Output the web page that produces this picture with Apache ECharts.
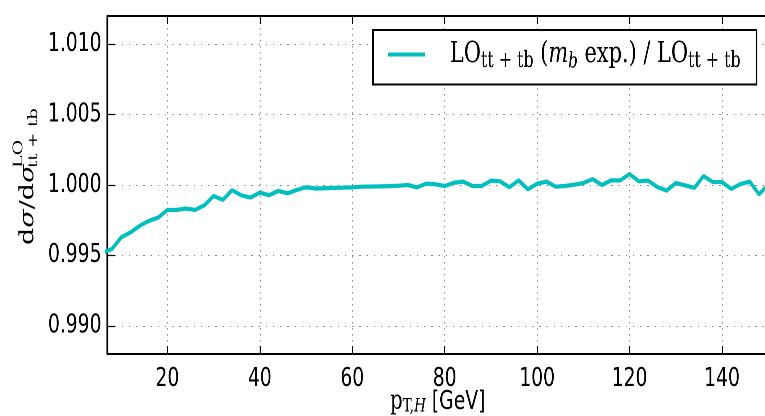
<!DOCTYPE html>
<html><head><meta charset="utf-8">
<script src="https://cdn.jsdelivr.net/npm/echarts@6/dist/echarts.min.js"></script>
<style>
html,body{margin:0;padding:0;overflow:hidden;background:#fff;width:765px;height:416px;}
#main{width:1063px;height:416px;transform:scaleX(0.72);transform-origin:0 0;}
</style></head><body><div id="main"></div>
<script>
// ---- data ----
const ptH = [6,8,10,12,14,16,18,20,22,24,26,28,30,32,34,36,38,40,42,44,46,48,50,52,54,56,58,60,62,64,66,68,70,72,74,76,78,80,82,84,86,88,90,92,94,96,98,100,102,104,106,108,110,112,114,116,118,120,122,124,126,128,130,132,134,136,138,140,142,144,146,148,150];
const ratio = [0.99520,0.99545,0.99628,0.99663,0.99710,0.99745,0.99769,0.99823,0.99823,0.99833,0.99823,0.99856,0.99922,0.99894,0.99963,0.99927,0.99911,0.99946,0.99927,0.99958,0.99941,0.99965,0.99984,0.99975,0.99977,0.99979,0.99981,0.99983,0.99988,0.99989,0.99990,0.99992,0.99995,1.00000,0.99983,1.00010,1.00005,0.99993,1.00016,1.00024,0.99993,0.99993,1.00031,1.00026,0.99984,1.00033,0.99969,1.00009,1.00024,0.99988,0.99993,1.00002,1.00014,1.00042,1.00000,1.00033,1.00033,1.00078,1.00026,1.00031,0.99986,0.99960,1.00014,0.99998,0.99979,1.00064,1.00021,1.00021,0.99972,1.00007,1.00024,0.99934,1.00000];
const xRange = [7, 150];
const yRange = [0.988, 1.012];
const seriesName = 'ratio';

const chart = echarts.init(document.getElementById('main'), null, {renderer:'canvas', devicePixelRatio:2});
const serif = 'DejaVu Serif';
const sans = 'DejaVu Sans';
const subLH = 14, mainLH = 36;
const richCommon = {
  gap:{width:30},
  n:{fontFamily:serif,fontSize:29,lineHeight:mainLH,color:'#000'},
  i:{fontFamily:serif,fontSize:29,fontStyle:'italic',lineHeight:mainLH,color:'#000'},
  s:{fontFamily:serif,fontSize:22,lineHeight:subLH,verticalAlign:'bottom',color:'#000'},
  si:{fontFamily:serif,fontSize:21,fontStyle:'italic',lineHeight:subLH,verticalAlign:'bottom',color:'#000'},
  xn:{fontFamily:serif,fontSize:27,lineHeight:28,color:'#000'},
  xs:{fontFamily:serif,fontSize:19,lineHeight:12,verticalAlign:'bottom',color:'#000'},
  xsi:{fontFamily:serif,fontSize:19,fontStyle:'italic',lineHeight:12,verticalAlign:'bottom',color:'#000'},
  g:{fontFamily:sans,fontSize:26,lineHeight:28,color:'#000'}
};
const pairs = ptH.map((x,k)=>[x, ratio[k]]);

chart.setOption({
  animation:false,
  backgroundColor:'#fff',
  grid:{left:149, top:16, width:918, height:338, containLabel:false, outerBoundsMode:'none'},
  legend:{
    left:518, top:30, orient:'horizontal',
    data:[{name:seriesName, icon:'rect'}],
    itemWidth:51, itemHeight:4,
    padding:[10,22,12,21],
    borderColor:'#000', borderWidth:2, backgroundColor:'#fff',
    formatter:()=>'{gap|}{n|LO}{s|tt + tb}{n| (}{i|m}{si|b}{n| exp.) / LO}{s|tt + tb}',
    textStyle:{rich:richCommon}
  },
  xAxis:[{
    type:'value', min:xRange[0], max:xRange[1], splitNumber:7, position:'bottom',
    axisLine:{show:true,onZero:false,lineStyle:{color:'#000',width:2}},
    axisTick:{show:true,inside:true,length:8,lineStyle:{color:'#000',width:1.4}},
    axisLabel:{showMinLabel:false,showMaxLabel:false,fontFamily:sans,fontSize:26,color:'#000',margin:12},
    splitLine:{show:true,lineStyle:{type:[1.5,4.5],color:'#888',width:1.4}},
    name:'{xn|p}{xs|T,}{xsi|H}{g| [GeV]}', nameLocation:'middle', nameGap:34, nameMoveOverlap:false,
    nameTextStyle:{rich:richCommon}
  },{
    type:'value', min:xRange[0], max:xRange[1], splitNumber:7, position:'top',
    axisLine:{show:true,onZero:false,lineStyle:{color:'#000',width:2}},
    axisTick:{show:true,inside:true,length:8,lineStyle:{color:'#000',width:1.4}},
    axisLabel:{show:false}, splitLine:{show:false}
  }],
  yAxis:{
    type:'value', min:yRange[0], max:yRange[1], splitNumber:5,
    axisLine:{show:true,onZero:false,lineStyle:{color:'#000',width:2.4}},
    axisTick:{show:true,inside:true,length:11,lineStyle:{color:'#000',width:1.2}},
    axisLabel:{showMinLabel:false,showMaxLabel:false,formatter:v=>v.toFixed(3),fontFamily:sans,fontSize:26,color:'#000',margin:8},
    splitLine:{show:true,lineStyle:{type:[2,8],color:'#888',width:1}}
  },
  graphic:[{
    type:'group', x:39, y:245, rotation:Math.PI/2,
    children:[
      {type:'text', x:0, y:0, style:{text:'{r|d}{i|σ}{r|/d}{i|σ}', rich:{r:{fontFamily:serif,fontSize:27,fill:'#000'},i:{fontFamily:serif,fontSize:27,fontStyle:'italic',fill:'#000'}}, verticalAlign:'middle', align:'left', fill:'#000'}},
      {type:'text', x:77, y:-13, style:{text:'LO', font:'19px "DejaVu Serif"', verticalAlign:'middle', align:'left', fill:'#000'}},
      {type:'text', x:77, y:8, style:{text:'tt + tb', font:'18px "DejaVu Serif"', verticalAlign:'middle', align:'left', fill:'#000'}}
    ]
  }],
  series:[{
    name:seriesName, type:'line', xAxisIndex:0, data:pairs,
    symbol:'none', clip:true,
    lineStyle:{color:'#00BFBF',width:4.2}, itemStyle:{color:'#00BFBF'}
  }]
});
</script></body></html>
